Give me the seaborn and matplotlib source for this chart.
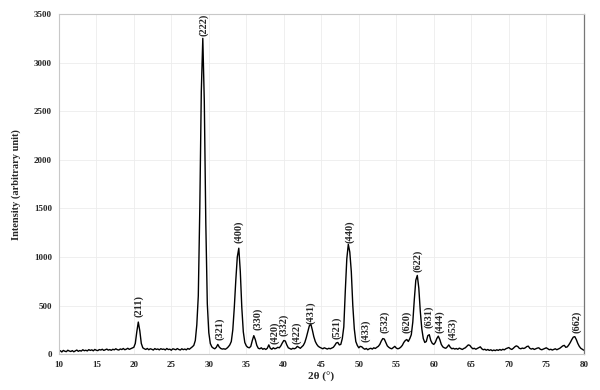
import numpy as np
import pandas as pd
import matplotlib
matplotlib.use("Agg")
import matplotlib.pyplot as plt
from matplotlib.ticker import MultipleLocator
import seaborn as sns

# XRD pattern, 2-theta from 10 to 80 deg, 0.2 deg step
intensity = [
    28, 35, 22, 38, 30, 25, 40, 32, 27, 36,            # 10.0 - 11.8
    24, 33, 42, 29, 37, 31, 45, 35, 40, 33,            # 12
    46, 38, 44, 34, 48, 40, 36, 47, 42, 50,            # 14
    38, 45, 52, 41, 47, 39, 50, 44, 55, 46,            # 16
    42, 53, 47, 58, 45, 51, 60, 49, 56, 62,            # 18
    70, 110, 230, 330, 240, 110, 65, 55, 48, 58,       # 20
    45, 55, 50, 42, 57, 48, 53, 44, 56, 49,            # 22
    52, 43, 58, 47, 51, 40, 55, 50, 45, 57,            # 24
    48, 42, 55, 46, 52, 44, 58, 50, 62, 75,            # 26
    90, 140, 300, 600, 1500, 2700, 3250, 2600, 1350, 520,  # 28
    220, 110, 75, 62, 55, 70, 100, 72, 58, 52,         # 30
    55, 50, 60, 75, 95, 130, 250, 480, 760, 1000,      # 32
    1090, 850, 480, 230, 120, 85, 70, 65, 80, 140,     # 34
    190, 150, 90, 60, 55, 65, 50, 58, 48, 60,          # 36
    95, 60, 50, 65, 55, 60, 70, 65, 85, 115,           # 38
    140, 135, 95, 65, 58, 50, 60, 55, 62, 80,          # 40
    70, 60, 75, 90, 120, 170, 230, 290, 310, 250,      # 42
    180, 130, 100, 80, 70, 62, 55, 65, 58, 52,         # 44
    60, 55, 62, 70, 90, 115, 120, 95, 100, 160,        # 46
    280, 650, 980, 1130, 1050, 850, 500, 260, 130, 90, # 48
    65, 80, 75, 60, 50, 58, 45, 55, 60, 52,            # 50
    65, 58, 70, 80, 100, 135, 160, 155, 120, 85,       # 52
    70, 60, 55, 68, 80, 62, 55, 60, 72, 90,            # 54
    120, 140, 150, 130, 160, 200, 330, 560, 760, 810,  # 56
    680, 440, 260, 160, 120, 130, 190, 200, 140, 110,  # 58
    100, 120, 160, 185, 150, 100, 75, 65, 60, 75,      # 60
    95, 70, 55, 60, 52, 58, 50, 62, 55, 48,            # 62
    58, 65, 80, 95, 90, 70, 55, 60, 50, 58,            # 64
    65, 75, 55, 45, 50, 40, 48, 38, 45, 35,            # 66
    42, 36, 45, 38, 48, 40, 50, 44, 55, 62,            # 68
    68, 55, 48, 60, 75, 85, 78, 60, 55, 62,            # 70
    58, 65, 78, 82, 60, 52, 58, 48, 55, 62,            # 72
    65, 50, 45, 52, 58, 65, 55, 45, 50, 42,            # 74
    48, 55, 45, 52, 60, 72, 85, 90, 70, 75,            # 76
    95, 120, 150, 175, 180, 150, 110, 80, 60, 50,      # 78
    40,                                                # 80
]
two_theta = np.linspace(10, 80, len(intensity))

# peak indices and where their labels sit
hkl = ["(211)", "(222)", "(321)", "(400)", "(330)", "(420)", "(332)", "(422)",
       "(431)", "(521)", "(440)", "(433)", "(532)", "(620)", "(622)", "(631)",
       "(444)", "(453)", "(662)"]
label_x = [20.7, 29.3, 31.5, 34.0, 36.5, 38.8, 40.0, 41.7,
           43.6, 47.1, 48.8, 50.9, 53.5, 56.4, 57.8, 59.3,
           60.8, 62.5, 79.1]
label_y = [494, 3390, 257, 1255, 360, 225, 300, 215,
           430, 275, 1265, 240, 330, 330, 960, 380,
           330, 260, 330]

df = pd.DataFrame({"two_theta": two_theta, "intensity": intensity})

sns.set_style("whitegrid")
plt.rcParams["font.family"] = ["Liberation Serif", "DejaVu Serif"]
plt.rcParams["font.weight"] = "bold"

fig = plt.figure(figsize=(6, 3.9), dpi=100)
ax = fig.add_axes([0.098, 0.092, 0.875, 0.872])

sns.lineplot(data=df, x="two_theta", y="intensity", color="black",
             linewidth=1.0, estimator=None, sort=False, ax=ax)

for lab, lx, ly in zip(hkl, label_x, label_y):
    ax.text(lx, ly, lab, rotation=90, ha="center", va="center",
            fontsize=7.5, fontweight="bold")

ax.set_xlim(10, 80)
ax.set_ylim(0, 3500)
ax.xaxis.set_major_locator(MultipleLocator(5))
ax.xaxis.set_minor_locator(MultipleLocator(1))
ax.yaxis.set_major_locator(MultipleLocator(500))
ax.grid(True, which="major", color="#ececec", linewidth=0.6)
ax.tick_params(axis="both", which="major", labelsize=6.5, length=0, pad=5)
ax.tick_params(axis="x", which="minor", length=2, direction="in",
               color="#bbbbbb", width=0.5)
for lbl in ax.get_xticklabels() + ax.get_yticklabels():
    lbl.set_fontweight("bold")

for side in ["left", "bottom", "top"]:
    ax.spines[side].set_color("#c8c8c8")
    ax.spines[side].set_linewidth(0.8)
ax.spines["right"].set_color("#777777")
ax.spines["right"].set_linewidth(0.9)

ax.set_xlabel("2θ (°)", fontsize=8, fontweight="bold", labelpad=2)
ax.set_ylabel("Intensity (arbitrary unit)", fontsize=7.5, fontweight="bold",
              labelpad=9)

fig.savefig("out.png", dpi=100)
